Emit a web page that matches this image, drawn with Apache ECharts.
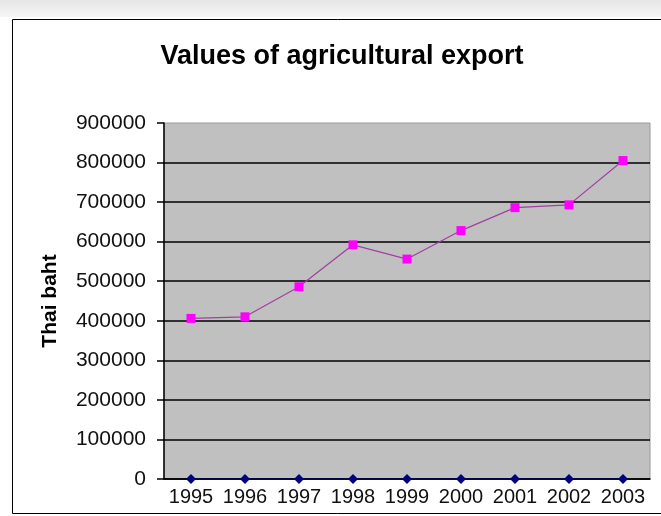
<!DOCTYPE html>
<html>
<head>
<meta charset="utf-8">
<script src="https://cdn.jsdelivr.net/npm/echarts@6/dist/echarts.min.js"></script>
<style>
html,body{margin:0;padding:0;background:#fff;}
#chart{width:661px;height:516px;}
</style>
</head>
<body>
<div id="chart"></div>
<script>
const years = ['1995','1996','1997','1998','1999','2000','2001','2002','2003'];
const exportValues = [406000, 410000, 486000, 592000, 556000, 628000, 686000, 693000, 805000];
const baseValues = [0, 0, 0, 0, 0, 0, 0, 0, 0];
const yTicks = [0, 100000, 200000, 300000, 400000, 500000, 600000, 700000, 800000, 900000];

const chart = echarts.init(document.getElementById('chart'), null, {renderer: 'canvas'});
const font = '"Liberation Sans", Arial, sans-serif';
const splitColors = yTicks.map((v, i) => i === yTicks.length - 1 ? 'rgba(0,0,0,0)' : '#000');

chart.setOption({
  animation: false,
  backgroundColor: '#ffffff',
  graphic: [
    {type: 'rect', shape: {x: 0, y: 0, width: 661, height: 17}, style: {fill: new echarts.graphic.LinearGradient(0,0,0,1,[{offset:0,color:'#e6e6e6'},{offset:1,color:'#f6f6f6'}])}, z: -10},
    {type: 'rect', shape: {x: 12.5, y: 19.5, width: 660, height: 494}, style: {fill: 'rgba(0,0,0,0)', stroke: '#000', lineWidth: 1}, z: -5}
  ],
  title: {
    text: 'Values of agricultural export',
    left: 337, top: 38, textAlign: 'center',
    textStyle: {fontFamily: font, fontSize: 27, fontWeight: 'bold', color: '#000'}
  },
  grid: {
    left: 164, right: 11, top: 123, bottom: 37,
    show: true, backgroundColor: '#c0c0c0', borderColor: '#9a9a9a', borderWidth: 1
  },
  xAxis: {
    type: 'category', data: years, boundaryGap: true,
    axisLine: {lineStyle: {color: '#000', width: 1.5}},
    axisTick: {show: false},
    axisLabel: {interval: 0, color: '#111', fontFamily: font, fontSize: 20, margin: 8},
    splitLine: {show: false}
  },
  yAxis: {
    type: 'value', min: 0, max: 900000, interval: 100000,
    name: 'Thai baht', nameLocation: 'middle', nameGap: 103, nameRotate: 90,
    nameTextStyle: {fontFamily: font, fontSize: 21, fontWeight: 'bold', color: '#000'},
    axisLine: {show: true, lineStyle: {color: '#000', width: 1.5}},
    axisTick: {show: true, length: 7, lineStyle: {color: '#000', width: 1.5}},
    axisLabel: {color: '#111', fontFamily: font, fontSize: 21, margin: 18, formatter: v => String(v)},
    splitLine: {show: true, lineStyle: {color: splitColors, width: 1.5}}
  },
  series: [
    {
      type: 'line', data: baseValues, symbol: 'diamond', symbolSize: 10,
      itemStyle: {color: '#000080'}, lineStyle: {color: '#000080', width: 1}, z: 3
    },
    {
      type: 'line', data: exportValues, symbol: 'rect', symbolSize: 9,
      itemStyle: {color: '#ff00ff'}, lineStyle: {color: '#a040a0', width: 1.2}, z: 4
    }
  ]
});
</script>
</body>
</html>
